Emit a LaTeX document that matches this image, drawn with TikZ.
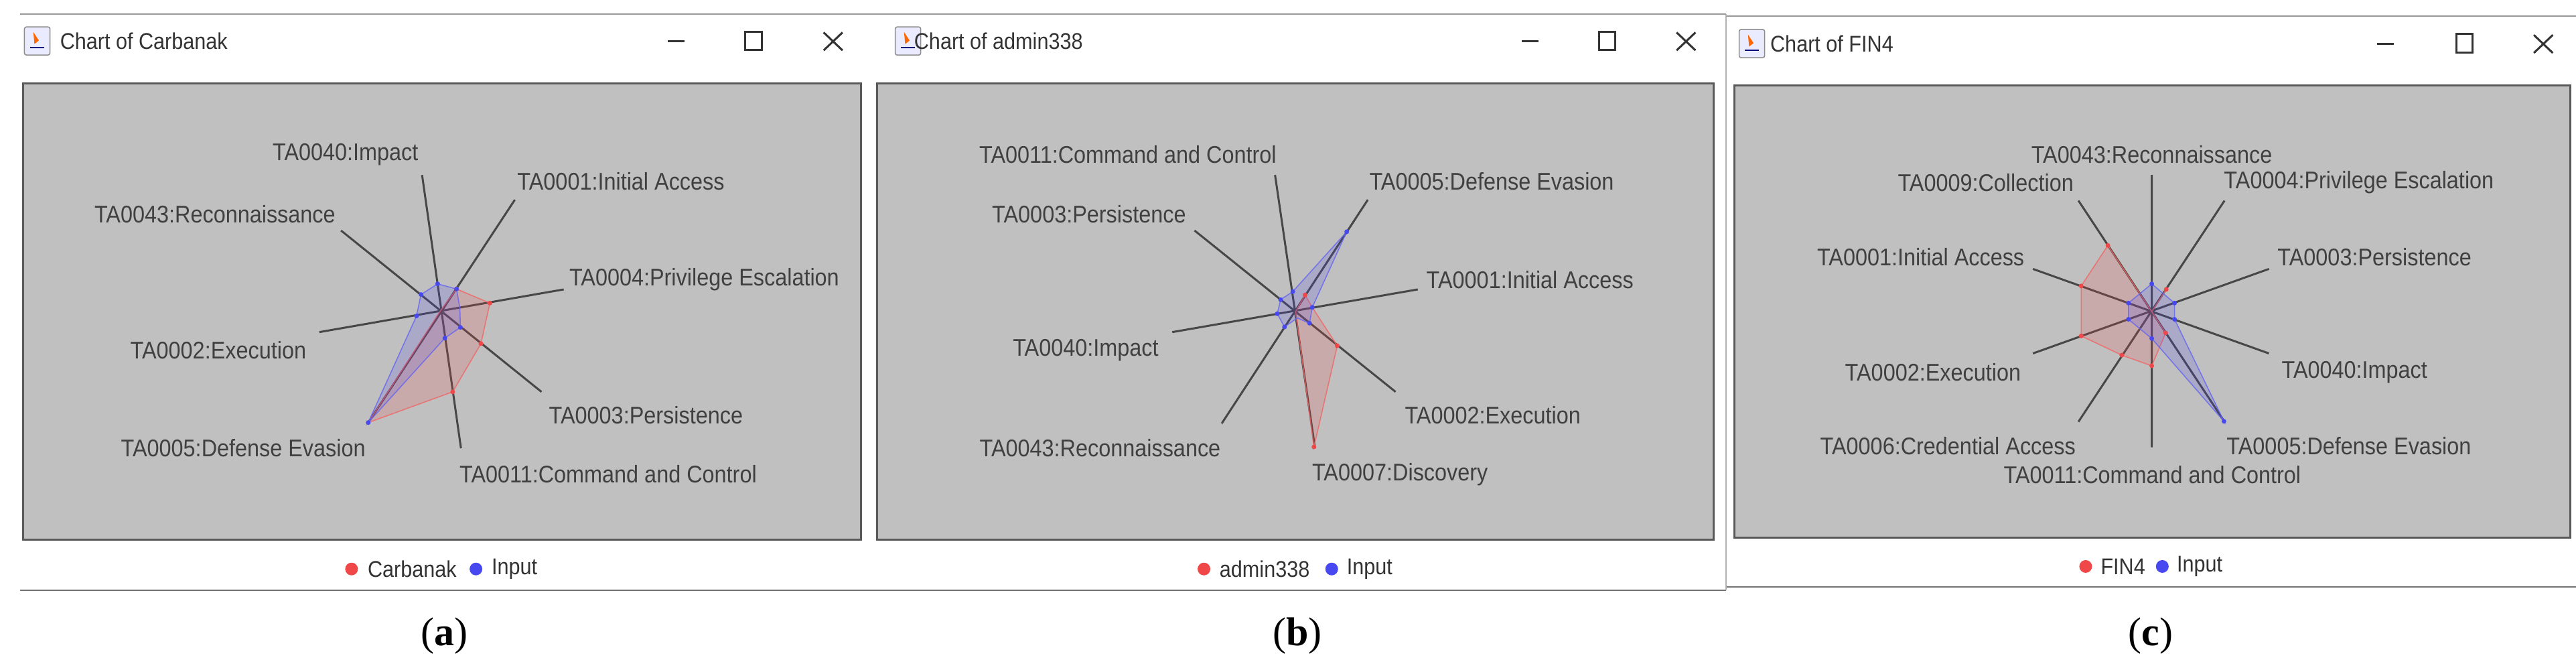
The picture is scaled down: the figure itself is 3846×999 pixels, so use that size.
\documentclass[tikz,border=0pt]{standalone}
\usepackage{fontspec}
\newfontfamily\cf[FakeStretch=0.9]{Liberation Sans}
\newfontfamily\capf{Liberation Serif}
\usetikzlibrary{calc}
\definecolor{bggray}{HTML}{C0C0C0}
\definecolor{txtgray}{HTML}{404040}
\definecolor{rd}{HTML}{F04848}
\definecolor{bl}{HTML}{4848F0}
\tikzset{
  box/.style={draw=black!65,line width=3pt,fill=bggray},
  spoke/.style={draw=black!72,line width=3pt},
  rpoly/.style={draw=rd!85,line width=1.5pt,fill=rd,fill opacity=0.18,draw opacity=0.8},
  bpoly/.style={draw=bl!85,line width=1.5pt,fill=bl,fill opacity=0.18,draw opacity=0.8},
  lab/.style={font=\cf\fontsize{36}{36}\selectfont,text=txtgray,inner sep=0pt},
  ttl/.style={font=\cf\fontsize{34}{34}\selectfont,text=black!80,inner sep=0pt,anchor=west},
  leg/.style={font=\cf\fontsize{34}{34}\selectfont,text=black!80,inner sep=0pt,anchor=west},
  subcap/.style={font=\capf\fontsize{60}{60}\selectfont,inner sep=0pt},
  wbtn/.style={draw=black!80,line width=3pt},
  sdot/.style={circle,inner sep=0pt,minimum size=7pt},
  ldot/.style={circle,inner sep=0pt,minimum size=19pt},
}
\newcommand{\rdot}[1]{\node[sdot,fill=rd] at #1 {};}
\newcommand{\bdot}[1]{\node[sdot,fill=bl] at #1 {};}
\newcommand{\winchrome}[4]{% icon/title y, min x, max x, close x
  \draw[black!45,line width=1.5pt,fill=blue!8,rounded corners=3] (44,#1-34) rectangle (90,#1+32);
  \fill[orange!80!red] (60,#1-22) -- (70,#1-2) -- (62,#1+6) -- cycle;
  \draw[blue!50!black,line width=2pt] (54,#1+14) -- (80,#1+14);
  \draw[wbtn] (#2-15,#1) -- (#2+15,#1);
  \draw[wbtn] (#3-15,#1-23) rectangle (#3+15,#1+20);
  \draw[wbtn] (#4-17,#1-21) -- (#4+17,#1+21) (#4-17,#1+21) -- (#4+17,#1-21);
}
\begin{document}
\begin{tikzpicture}[x=1pt,y=-1pt]
\path[use as bounding box,fill=white] (0,0) rectangle (3846,999);
% frames
\draw[black!40,line width=2pt] (30,21) -- (2577,21);
\draw[black!40,line width=2pt] (2577,24) -- (3846,24);
\draw[black!55,line width=2.5pt] (30,881) -- (2577,881);
\draw[black!55,line width=2.5pt] (2577,876) -- (3846,876);
\draw[black!30,line width=1.5pt] (2577,21) -- (2577,881);

% ===== (a)
\begin{scope}[xscale=0.8292,yscale=0.6371]
\winchrome{97}{1217}{1357}{1500}
\node[ttl] (ta) at (108,97) {Chart of Carbanak};
\draw[box] (42,195) rectangle (1550,1265);
\draw[spoke] (760,410)--(830,1050) (927,468)--(663,990) (614,540)--(975,918) (1015,678)--(575,778);
\draw[rpoly] (793,728)--(822,677)--(882,710)--(866,805)--(815,918)--(663,990)--cycle;
\draw[bpoly] (788,665)--(822,677)--(828,722)--(829,767)--(801,792)--(663,990)--(750,740)--(758,690)--cycle;
\foreach \p in {(822,677),(882,710),(866,805),(815,918)} {\rdot{\p}}
\foreach \p in {(788,665),(822,677),(829,767),(801,792),(663,990),(750,740),(758,690)} {\bdot{\p}}
\node[lab] (a1) at (622,362) {TA0040:Impact};
\node[lab] (a2) at (1118,425) {TA0001:Initial Access};
\node[lab] (a3) at (387,502) {TA0043:Reconnaissance};
\node[lab] (a4) at (1268,655) {TA0004:Privilege Escalation};
\node[lab] (a5) at (393,820) {TA0002:Execution};
\node[lab] (a6) at (438,1050) {TA0005:Defense Evasion};
\node[lab] (a7) at (1163,973) {TA0003:Persistence};
\node[lab] (a8) at (1095,1110) {TA0011:Command and Control};
\node[ldot,fill=rd] (da1) at (633,1333) {}; \node[leg] (la1) at (662,1333) {Carbanak};
\node[ldot,fill=bl] (da2) at (857,1333) {}; \node[leg] (la2) at (885,1333) {Input};
\node[subcap] (ca) at (800,1490) {(\textbf{a})};
\end{scope}

% ===== (b)
\begin{scope}[shift={(1300,0)},xscale=0.8292,yscale=0.6371]
\winchrome{97}{1187}{1326}{1468}
\node[ttl] (tb) at (78,97) {Chart of admin338};
\draw[box] (12,195) rectangle (1518,1265);
\draw[spoke] (728,410)--(800,1050) (895,468)--(632,992) (583,540)--(945,918) (985,678)--(543,778);
\draw[rpoly] (765,730)--(782,691)--(795,720)--(840,810)--(798,1047)--cycle;
\draw[bpoly] (760,683)--(857,543)--(795,720)--(790,757)--(768,745)--(745,766)--(732,735)--(738,702)--cycle;
\foreach \p in {(782,691),(840,810),(798,1047)} {\rdot{\p}}
\foreach \p in {(760,683),(857,543),(795,720),(790,757),(745,766),(732,735),(738,702)} {\bdot{\p}}
\node[lab] (b1) at (463,362) {TA0011:Command and Control};
\node[lab] (b2) at (1118,425) {TA0005:Defense Evasion};
\node[lab] (b3) at (393,502) {TA0003:Persistence};
\node[lab] (b4) at (1187,655) {TA0001:Initial Access};
\node[lab] (b5) at (387,820) {TA0040:Impact};
\node[lab] (b6) at (413,1050) {TA0043:Reconnaissance};
\node[lab] (b7) at (1120,973) {TA0002:Execution};
\node[lab] (b8) at (953,1112) {TA0007:Discovery};
\node[ldot,fill=rd] (db1) at (600,1333) {}; \node[leg] (lb1) at (628,1333) {admin338};
\node[ldot,fill=bl] (db2) at (830,1333) {}; \node[leg] (lb2) at (857,1333) {Input};
\node[subcap] (cb) at (768,1490) {(\textbf{b})};
\end{scope}

% ===== (c)
\begin{scope}[shift={(2560,0)},xscale=0.8292,yscale=0.6371]
\winchrome{103}{1208}{1350}{1492}
\node[ttl] (tc) at (100,103) {Chart of FIN4};
\draw[box] (35,200) rectangle (1540,1260);
\draw[spoke] (787,410)--(787,1048) (655,470)--(918,988) (918,470)--(655,988) (573,630)--(998,828) (998,630)--(573,828);
\draw[rpoly] (708,575)--(787,730)--(813,678)--(787,730)--(812,780)--(787,857)--(733,832)--(660,787)--(660,670)--cycle;
\draw[bpoly] (787,665)--(828,710)--(828,748)--(917,987)--(787,793)--(745,748)--(745,710)--cycle;
\foreach \p in {(708,575),(813,678),(812,780),(787,857),(733,832),(660,787),(660,670)} {\rdot{\p}}
\foreach \p in {(787,665),(828,710),(828,748),(917,987),(787,793),(745,748),(745,710)} {\bdot{\p}}
\node[lab] (c1) at (787,362) {TA0043:Reconnaissance};
\node[lab] (c2) at (488,428) {TA0009:Collection};
\node[lab] (c3) at (1160,428) {TA0004:Privilege Escalation};
\node[lab] (c4) at (371,602) {TA0001:Initial Access};
\node[lab] (c5) at (1188,602) {TA0003:Persistence};
\node[lab] (c6) at (393,872) {TA0002:Execution};
\node[lab] (c7) at (1152,872) {TA0040:Impact};
\node[lab] (c8) at (420,1045) {TA0006:Credential Access};
\node[lab] (c9) at (1142,1045) {TA0005:Defense Evasion};
\node[lab] (c10) at (788,1112) {TA0011:Command and Control};
\node[ldot,fill=rd] (dc1) at (668,1327) {}; \node[leg] (lc1) at (695,1327) {FIN4};
\node[ldot,fill=bl] (dc2) at (806,1327) {}; \node[leg] (lc2) at (832,1327) {Input};
\node[subcap] (cc) at (785,1490) {(\textbf{c})};
\end{scope}
\end{tikzpicture}
\end{document}
